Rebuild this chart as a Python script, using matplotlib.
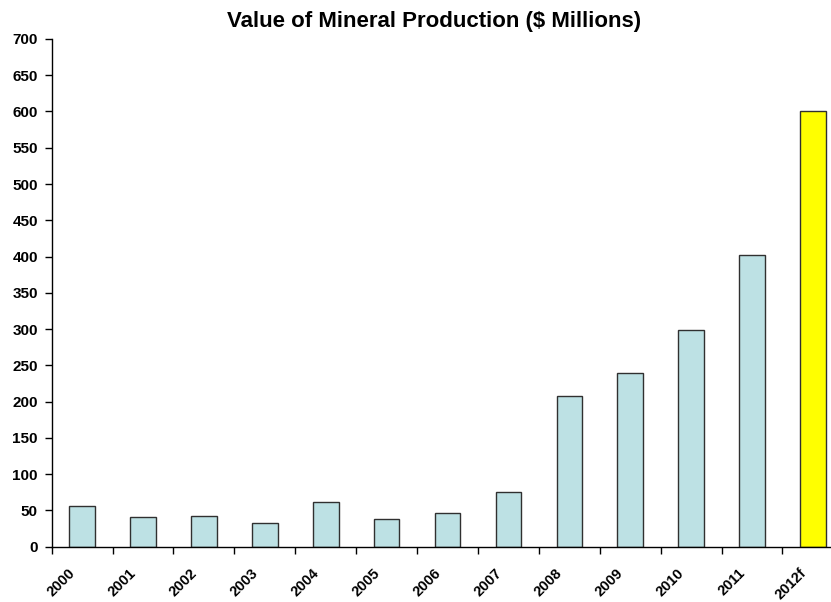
import matplotlib.pyplot as plt
import matplotlib.transforms as mtransforms
import numpy as np

years = ['2000', '2001', '2002', '2003', '2004', '2005', '2006',
         '2007', '2008', '2009', '2010', '2011', '2012f']
values = [56.5, 41.5, 42.5, 33, 62, 38.5, 47, 75, 208, 240, 299, 402, 600]
colors = ['#bde1e4'] * 12 + ['#ffff00']

plt.rcParams['font.family'] = ['Liberation Sans', 'DejaVu Sans']
plt.rcParams['font.weight'] = 'bold'

fig = plt.figure(figsize=(8.31, 6.02), dpi=100)
ax = fig.add_axes([0.0622, 0.0919, 0.9527, 0.8434])

x = np.arange(len(years))
ax.bar(x, values, width=0.42, color=colors, edgecolor='#303030', linewidth=1.0)

ax.set_xlim(-0.5, len(years) - 0.5)
ax.set_ylim(0, 700)
ax.set_yticks(np.arange(0, 701, 50))
ax.tick_params(axis='y', labelsize=11, length=5, width=1, pad=5)

# ticks between categories, labels at category centres
ax.set_xticks(np.arange(len(years)) - 0.5, minor=False)
ax.set_xticklabels([])
ax.set_xticks(x, minor=True)
ax.set_xticklabels(years, minor=True, rotation=45, ha='right',
                   rotation_mode='anchor', fontsize=10.5, fontweight='bold')
ax.tick_params(axis='x', which='major', length=5, width=1)
ax.tick_params(axis='x', which='minor', length=0, pad=13)

shift = mtransforms.ScaledTranslation(-14 / 100, -1 / 100, fig.dpi_scale_trans)
for lab in ax.get_xticklabels(minor=True):
    lab.set_transform(lab.get_transform() + shift)

for lab in ax.get_yticklabels():
    lab.set_fontweight('bold')

ax.spines['top'].set_visible(False)
ax.spines['right'].set_visible(False)
for s in ('left', 'bottom'):
    ax.spines[s].set_linewidth(1)

fig.text(434.5 / 831, 1 - 27.5 / 602, 'Value of Mineral Production ($ Millions)',
         ha='center', va='baseline', fontsize=16, fontweight='bold')

fig.savefig('out.png', dpi=100)
